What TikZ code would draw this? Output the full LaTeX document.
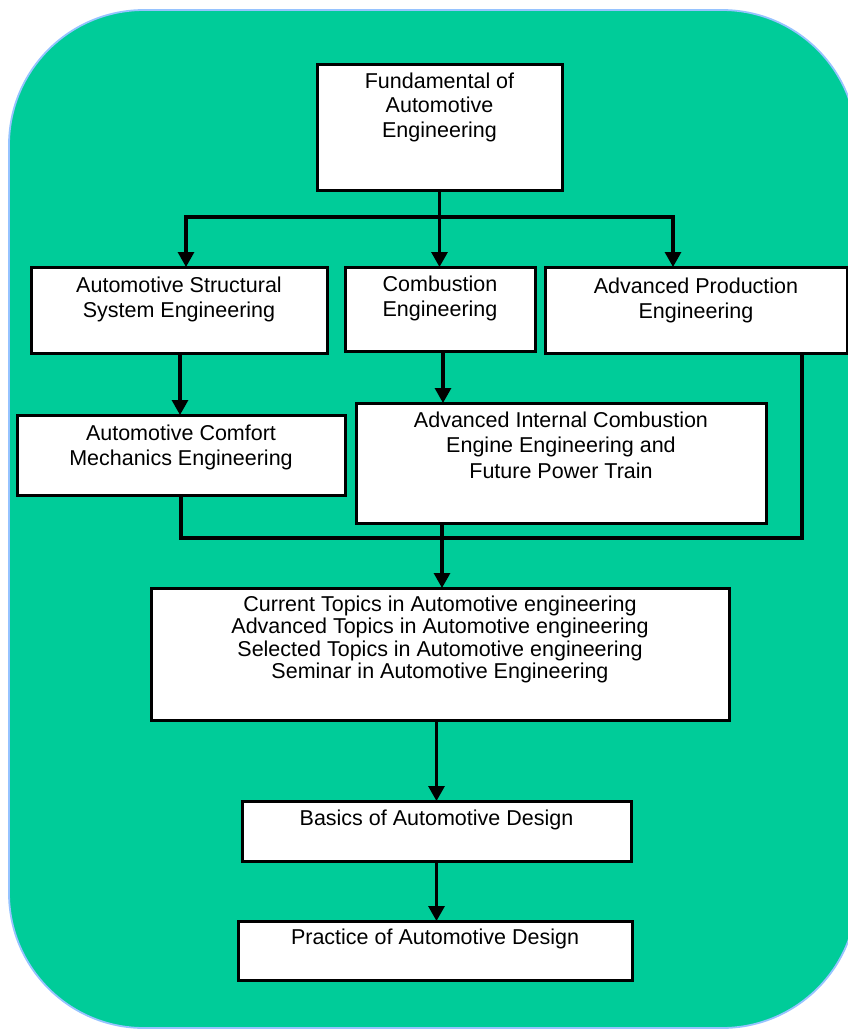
\documentclass[tikz,border=0pt]{standalone}
\usepackage{fontspec}
\setmainfont{Liberation Sans}
\usetikzlibrary{arrows.meta}
\definecolor{bgc}{RGB}{0,204,153}
\definecolor{bordc}{RGB}{150,195,255}
% width, height, top pad, baselineskip, text
\newcommand\bxt[5]{\parbox[c][#2pt][t]{#1pt}{\fontsize{21.5pt}{#4pt}\selectfont\centering\vspace*{#3pt}\strut #5}}
\tikzset{
  box/.style={draw=black, fill=white, line width=3pt, inner sep=0pt, outer sep=0pt},
  conn/.style={draw=black, line width=3.1pt, line cap=butt, line join=miter},
  arr/.style={draw=black, line width=3.1pt, -{Triangle[length=15pt,width=16pt]}},
}
\begin{document}
\begin{tikzpicture}[x=1pt,y=-1pt]
\useasboundingbox (0,0) rectangle (848,1029);
\draw[fill=bgc, draw=bordc, line width=1.8pt, rounded corners=135pt] (9,10) rectangle (857,1028);

\node[box] (fund) at (439.5,127) {\bxt{245}{126}{6.85}{24.5}{Fundamental of\\Automotive\\Engineering}};
\node[box] (struct) at (179,310) {\bxt{296}{86}{7.5}{25}{Automotive Structural\\System Engineering}};
\node[box] (comb) at (440,309) {\bxt{190}{84}{7}{25}{Combustion\\Engineering}};
\node[box] (prod) at (696,310) {\bxt{302}{86}{8.5}{25}{Advanced Production\\Engineering}};
\node[box] (comf) at (181,455) {\bxt{328}{80}{7.5}{25}{Automotive Comfort\\Mechanics Engineering}};
\node[box] (aic) at (561,463) {\bxt{410}{120}{6.15}{25.5}{Advanced Internal Combustion\\Engine Engineering and\\Future Power Train}};
\node[box] (cur) at (440,654) {\bxt{578}{132}{7.25}{22.5}{Current Topics in Automotive engineering\\Advanced Topics in Automotive engineering\\Selected Topics in Automotive engineering\\Seminar in Automotive Engineering}};
\node[box] (bas) at (436.5,831) {\bxt{389}{60}{7.2}{24}{Basics of Automotive Design}};
\node[box] (prac) at (435,950.5) {\bxt{394}{59}{6.2}{24}{Practice of Automotive Design}};

% top branch
\coordinate (bL) at (186,217);
\coordinate (bR) at (673,217);
\coordinate (bM) at (fund.south |- bL);
\draw[conn] (fund.south) -- (bM);
\draw[conn, line cap=rect] (bL) -- (bR);
\draw[arr] (bL) -- (bL |- struct.north);
\draw[arr] (bM) -- (bM |- comb.north);
\draw[arr] (bR) -- (bR |- prod.north);

% second level
\draw[arr] ([xshift=1pt]struct.south) -- ([xshift=1pt]struct.south |- comf.north);
\coordinate (ca) at ([xshift=3pt]comb.south);
\draw[arr] (ca) -- (ca |- aic.north);

% collector
\coordinate (cL) at (comf.south |- 0,538);
\coordinate (cR) at (802,538);
\coordinate (cM) at (442,538);
\draw[conn] (comf.south) -- (cL) -- (cR) -- (cR |- prod.south);
\draw[conn] (cM |- aic.south) -- (cM);
\draw[arr] (cM) -- (cM |- cur.north);

% lower chain
\draw[arr] (bas.north |- cur.south) -- (bas.north);
\draw[arr] (bas.south) -- (bas.south |- prac.north);
\end{tikzpicture}
\end{document}
